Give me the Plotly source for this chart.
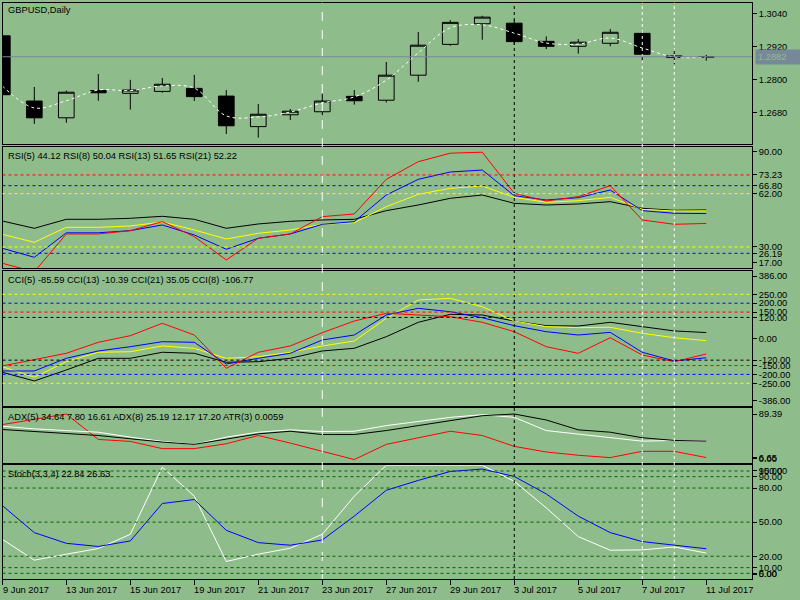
import plotly.graph_objects as go
from datetime import datetime

# ---------------- data ----------------
dates = ["2017-06-09", "2017-06-12", "2017-06-13", "2017-06-14", "2017-06-15", "2017-06-16",
         "2017-06-19", "2017-06-20", "2017-06-21", "2017-06-22", "2017-06-23", "2017-06-26",
         "2017-06-27", "2017-06-28", "2017-06-29", "2017-06-30", "2017-07-03", "2017-07-04",
         "2017-07-05", "2017-07-06", "2017-07-07", "2017-07-10", "2017-07-11"]

open_ = [1.2958, 1.2721, 1.2660, 1.2759, 1.2749, 1.2756, 1.2767, 1.2739, 1.2628, 1.2671, 1.2682, 1.2738,
         1.2724, 1.2815, 1.2927, 1.3002, 1.3004, 1.2938, 1.2920, 1.2931, 1.2967, 1.2885, 1.2881]
high = [1.2980, 1.2772, 1.2759, 1.2819, 1.2798, 1.2805, 1.2816, 1.2761, 1.2710, 1.2692, 1.2747, 1.2761,
        1.2863, 1.2972, 1.3015, 1.3031, 1.3016, 1.2956, 1.2946, 1.2983, 1.2975, 1.2910, 1.2889]
low = [1.2636, 1.2638, 1.2642, 1.2722, 1.2690, 1.2751, 1.2721, 1.2601, 1.2588, 1.2652, 1.2670, 1.2708,
       1.2716, 1.2791, 1.2922, 1.2944, 1.2925, 1.2910, 1.2893, 1.2920, 1.2864, 1.2855, 1.2868]
close = [1.2744, 1.2660, 1.2753, 1.2751, 1.2761, 1.2782, 1.2737, 1.2631, 1.2673, 1.2684, 1.2721, 1.2722,
         1.2815, 1.2924, 1.3007, 1.3026, 1.2937, 1.2920, 1.2935, 1.2971, 1.2891, 1.2879, 1.2882]
ma = [1.2776, 1.2696, 1.2722, 1.2761, 1.2759, 1.2776, 1.2768, 1.2667, 1.2663, 1.2681, 1.2714, 1.2736,
      1.2797, 1.2896, 1.2987, 1.2998, 1.2968, 1.2932, 1.2928, 1.2950, 1.2914, 1.2881, 1.2881]
bid = 1.2882
price_ticks = [1.2680, 1.2800, 1.2920, 1.3040]

rsi5 = [20.2, 15.1, 37.8, 37.8, 39.8, 45.2, 36.2, 22.2, 35.2, 37.8, 48.2, 49.8, 70.6, 81.2, 86.3, 86.9,
        62.2, 57.6, 60.2, 66.8, 46.2, 43.6, 44.12]
rsi8 = [29.2, 23.8, 38.5, 38.5, 39.8, 43.2, 37.2, 28.6, 35.2, 37.8, 43.6, 45.2, 61.2, 70.6, 75.0, 76.2,
        60.8, 58.2, 59.6, 64.2, 51.8, 50.2, 50.04]
rsi13 = [37.6, 32.8, 41.8, 41.8, 42.6, 45.0, 40.2, 34.8, 38.2, 40.2, 43.6, 44.6, 54.2, 61.6, 65.2, 66.6,
         59.8, 56.8, 57.8, 59.8, 52.6, 51.6, 51.65]
rsi21 = [45.6, 41.2, 46.6, 46.6, 47.2, 48.4, 46.6, 41.2, 43.8, 45.4, 46.2, 46.6, 51.8, 55.2, 59.2, 61.2,
         56.2, 55.2, 55.8, 57.2, 53.2, 52.0, 52.22]
rsi_levels = [73.23, 66.80, 62.00, 30.00, 26.19]
rsi_level_colors = ["#FF0000", "#0000FF", "#FFFF00", "#FFFF00", "#0000FF"]

cci5 = [-152.8, -119.1, -81.5, -19.7, 17.4, 87.1, 21.3, -165.7, -75.8, -40.4, 34.3, 100.0, 143.3, 133.7,
        124.2, 92.7, 39.9, -44.4, -81.5, 6.2, -91.0, -128.7, -85.59]
cci8 = [-180.9, -180.9, -109.6, -68.5, -44.4, -16.3, -19.7, -141.6, -109.6, -81.5, -6.7, 21.3, 133.7, 171.3,
        152.2, 118.5, 73.6, 39.9, 21.3, 36.1, -75.8, -124.7, -106.77]
cci13 = [-156.7, -216.3, -128.7, -75.8, -72.5, -40.4, -53.4, -109.6, -100.6, -75.8, -40.4, -12.4, 115.0,
         218.0, 227.5, 180.3, 100.0, 68.3, 62.7, 64.6, 30.9, 6.2, -10.39]
cci21 = [-188.2, -237.1, -175.3, -109.6, -109.6, -75.8, -81.5, -132.0, -128.7, -109.6, -68.5, -53.4, 11.8,
         92.7, 137.6, 133.7, 100.0, 73.6, 71.9, 92.7, 68.3, 44.2, 35.05]
cci_levels = [250, 200, 150, 120, -120, -150, -200, -250]
cci_level_colors = ["#FFFF00", "#0000FF", "#FF0000", "#000000", "#000000", "#FF0000", "#0000FF", "#FFFF00"]

adx_main = [54.5, 51.2, 48.5, 44.7, 39.3, 33.9, 30.1, 39.3, 47.4, 51.7, 46.3, 46.3, 52.8, 61.0, 69.1, 77.2,
            80.0, 70.2, 54.0, 50.1, 41.0, 36.6, 35.4]
adx_white = [59.9, 55.6, 52.8, 50.1, 42.0, 35.0, 30.1, 42.0, 50.1, 54.0, 51.2, 51.7, 61.0, 68.0, 74.5, 78.9,
             74.5, 52.8, 47.4, 41.0, 35.4, 36.6, 35.4]
adx_red = [62.6, 71.8, 80.0, 38.2, 35.0, 23.1, 23.1, 31.2, 44.7, 32.2, 18.7, 5.2, 30.1, 41.0, 51.7, 44.7,
           26.8, 17.6, 12.2, 8.4, 18.7, 18.7, 8.4]

stoch_main = [34.9, 16.6, 21.8, 26.8, 39.3, 98.4, 72.8, 15.4, 21.8, 27.1, 39.3, 72.8, 100.0, 100.0, 100.0,
              100.0, 85.9, 62.6, 37.3, 25.3, 25.6, 28.2, 22.84]
stoch_signal = [64.6, 40.8, 31.4, 28.6, 33.5, 66.4, 69.9, 42.8, 32.0, 29.7, 34.3, 55.3, 78.0, 86.7, 94.6,
                96.7, 90.2, 74.8, 55.3, 40.8, 32.9, 30.0, 26.63]
stoch_levels = [95, 90, 80, 50, 20, 10, 5]

vline_bars = [10, 16, 20, 21]
vline_colors = ["#FFFFFF", "#000000", "#FFFFFF", "#FFFFFF"]

titles = ["GBPUSD,Daily",
          "RSI(5) 44.12 RSI(8) 50.04 RSI(13) 51.65 RSI(21) 52.22",
          "CCI(5) -85.59 CCI(13) -10.39 CCI(21) 35.05 CCI(8) -106.77",
          "ADX(5) 34.64 7.80 16.61 ADX(8) 25.19 12.17 17.20 ATR(3) 0.0059",
          "Stoch(3,3,4) 22.84 26.63"]

# ---------------- layout helpers ----------------
BG = "#8FBC8B"
FONT = "Liberation Sans"
FS = 9.3
W, H = 800, 600
X_LEFT, X_RIGHT = 2.5, 752.0
idx = list(range(len(dates)))


def py(p):
    return 1 - p / H


panels = [(2.7, 144.3), (146.7, 268.3), (271.0, 405.7), (408.3, 462.7), (465.3, 579.0)]
yranges = [[1.25637, 1.30785], [17.18, 90.2], [-376, 381], [0, 89.39], [0, 100]]
xrange_ = [0.006, 23.43]

fig = go.Figure()

fig.add_trace(go.Candlestick(
    x=idx, open=open_, high=high, low=low, close=close, xaxis="x", yaxis="y",
    increasing=dict(line=dict(color="black", width=1), fillcolor=BG),
    decreasing=dict(line=dict(color="black", width=1), fillcolor="black"),
    hoverinfo="skip", showlegend=False))
fig.add_trace(go.Scatter(x=idx, y=ma, mode="lines", xaxis="x", yaxis="y",
                         line=dict(color="white", width=1, dash="dot", shape="spline"),
                         hoverinfo="skip", showlegend=False))

for s, c in [(rsi21, "black"), (rsi13, "#FFFF00"), (rsi8, "#0000FF"), (rsi5, "#FF0000")]:
    fig.add_trace(go.Scatter(x=idx, y=s, mode="lines", xaxis="x2", yaxis="y2",
                             line=dict(color=c, width=1), hoverinfo="skip", showlegend=False))
for s, c in [(cci21, "black"), (cci13, "#FFFF00"), (cci8, "#0000FF"), (cci5, "#FF0000")]:
    fig.add_trace(go.Scatter(x=idx, y=s, mode="lines", xaxis="x3", yaxis="y3",
                             line=dict(color=c, width=1), hoverinfo="skip", showlegend=False))
for s, c in [(adx_red, "#FF0000"), (adx_white, "white"), (adx_main, "black")]:
    fig.add_trace(go.Scatter(x=idx, y=s, mode="lines", xaxis="x4", yaxis="y4",
                             line=dict(color=c, width=1), hoverinfo="skip", showlegend=False))
for s, c in [(stoch_main, "white"), (stoch_signal, "#0000FF")]:
    fig.add_trace(go.Scatter(x=idx, y=s, mode="lines", xaxis="x5", yaxis="y5",
                             line=dict(color=c, width=1), hoverinfo="skip", showlegend=False))

shapes = []
for b, c in zip(vline_bars, vline_colors):
    shapes.append(dict(type="line", xref="x", yref="paper", x0=b, x1=b, y0=py(579), y1=py(2.7),
                       line=dict(color=c, width=1, dash="dash" if b == 10 else "dot")))
shapes.append(dict(type="line", xref="paper", yref="y", x0=X_LEFT / W, x1=X_RIGHT / W, y0=bid, y1=bid,
                   line=dict(color="#778899", width=1)))
for v, c in zip(rsi_levels, rsi_level_colors):
    shapes.append(dict(type="line", xref="paper", yref="y2", x0=X_LEFT / W, x1=X_RIGHT / W, y0=v, y1=v,
                       line=dict(color=c, width=1, dash="dot")))
for v, c in zip(cci_levels, cci_level_colors):
    shapes.append(dict(type="line", xref="paper", yref="y3", x0=X_LEFT / W, x1=X_RIGHT / W, y0=v, y1=v,
                       line=dict(color=c, width=1, dash="dot")))
for v in stoch_levels:
    shapes.append(dict(type="line", xref="paper", yref="y5", x0=X_LEFT / W, x1=X_RIGHT / W, y0=v, y1=v,
                       line=dict(color="#006400", width=1, dash="dot")))


def yaxis_def(i, tickvals, ticktext):
    top, bot = panels[i]
    return dict(domain=[py(bot), py(top)], range=yranges[i], side="right",
                anchor="x" + ("" if i == 0 else str(i + 1)),
                showline=True, mirror=True, linecolor="black", linewidth=1, showgrid=False, zeroline=False,
                ticks="outside", ticklen=4, tickcolor="black", tickmode="array",
                tickvals=tickvals, ticktext=ticktext,
                tickfont=dict(family=FONT, size=FS, color="black"), fixedrange=True)


def xaxis_def(i, bottom=False):
    d = dict(domain=[X_LEFT / W, X_RIGHT / W], range=xrange_, anchor="y" + ("" if i == 0 else str(i + 1)),
             showline=True, mirror=True, linecolor="black", linewidth=1, showgrid=False, zeroline=False,
             showticklabels=False, fixedrange=True)
    if bottom:
        d.update(ticks="outside", ticklen=5, tickcolor="black", tickmode="array",
                 tickvals=[max(i2, xrange_[0]) for i2 in idx[::2]])
    else:
        d.update(ticks="")
    return d


def fmt(v, n=2):
    return f"{v:.{n}f}"


rsi_tv = [87.3, 73.23, 66.80, 62.00, 30.00, 26.19, 20.7]
rsi_tt = [fmt(v) for v in [90.0, 73.23, 66.80, 62.00, 30.00, 26.19, 17.0]]
cci_tv = [352, 250, 200, 150, 120, 0, -120, -150, -200, -250, -346]
cci_tt = [fmt(v) for v in [386, 250, 200, 150, 120, 0, -120, -150, -200, -250, -386]]
adx_tv = [80.0, 7.8, 6.6]
adx_tt = ["89.39", "6.65", "0.00"]
st_tv = [95.3, 95, 90, 80, 50, 20, 10, 5, 4.4]
st_tt = [fmt(v) for v in [100, 95, 90, 80, 50, 20, 10, 5, 0]]

xa1 = xaxis_def(0)
xa1["rangeslider"] = dict(visible=False)

fig.update_layout(
    width=W, height=H, margin=dict(l=0, r=0, t=0, b=0),
    paper_bgcolor=BG, plot_bgcolor="rgba(0,0,0,0)", showlegend=False,
    font=dict(family=FONT, size=FS, color="black"),
    shapes=shapes,
    xaxis=xa1, xaxis2=xaxis_def(1), xaxis3=xaxis_def(2), xaxis4=xaxis_def(3), xaxis5=xaxis_def(4, bottom=True),
    yaxis=yaxis_def(0, price_ticks, [fmt(v, 4) for v in price_ticks]),
    yaxis2=yaxis_def(1, rsi_tv, rsi_tt),
    yaxis3=yaxis_def(2, cci_tv, cci_tt),
    yaxis4=yaxis_def(3, adx_tv, adx_tt),
    yaxis5=yaxis_def(4, st_tv, st_tt),
)

ann = []
title_y = [9.7, 155.7, 280.0, 416.7, 474.0]
for t, yy in zip(titles, title_y):
    ann.append(dict(text=t, xref="paper", yref="paper", x=6 / W, y=py(yy), xanchor="left", yanchor="middle",
                    showarrow=False, font=dict(family=FONT, size=FS, color="black")))
for i in idx[::2]:
    lab = datetime.strptime(dates[i], "%Y-%m-%d")
    ann.append(dict(text=f"{lab.day} {lab.strftime('%b %Y')}", xref="x5", yref="paper",
                    x=max(i, xrange_[0] + 0.001), y=py(590),
                    xanchor="left", yanchor="middle", showarrow=False, xshift=-2,
                    font=dict(family=FONT, size=FS, color="black")))
ann.append(dict(text=fmt(bid, 4), xref="paper", yref="y", x=755 / W, y=bid, xanchor="left", yanchor="middle",
                showarrow=False, bgcolor="#778899", borderpad=2, width=40, align="left",
                font=dict(family=FONT, size=FS, color=BG)))
fig.update_layout(annotations=ann)

fig.write_html("out.html", config={"displayModeBar": False},
               post_script="document.body.style.margin='0';document.body.style.padding='0';"
                           "document.body.style.overflow='hidden';")
